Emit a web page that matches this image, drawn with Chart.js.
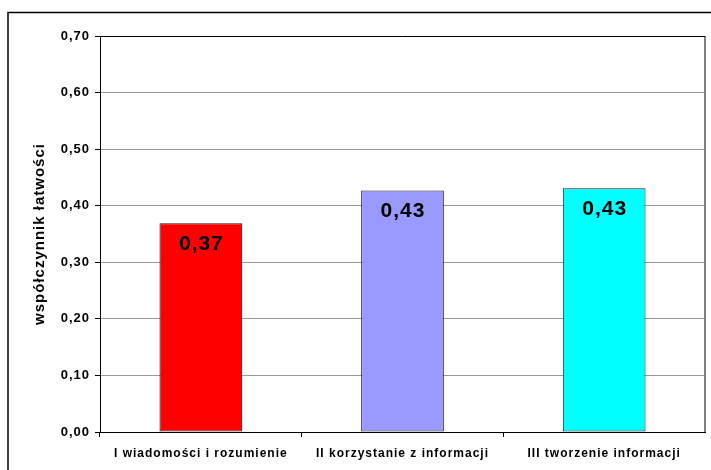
<!DOCTYPE html>
<html>
<head>
<meta charset="utf-8">
<script src="https://cdn.jsdelivr.net/npm/chart.js@4/dist/chart.umd.min.js"></script>
<style>
  html, body { margin: 0; padding: 0; background: #fff; }
  #wrap { width: 711px; height: 470px; position: relative; }
</style>
</head>
<body>
<div id="wrap"><canvas id="c" width="711" height="470"></canvas></div>
<script>
// Obszary umiejętności i ich współczynniki łatwości
const categories = ['I wiadomości i rozumienie', 'II korzystanie z informacji', 'III tworzenie informacji'];
const easiness = [0.369, 0.427, 0.431];
const barColors = ['#FF0000', '#9999FF', '#00FFFF'];
const yTicks = [0, 0.1, 0.2, 0.3, 0.4, 0.5, 0.6, 0.7];

const FONT = "'Liberation Sans', Arial, sans-serif";
const fmt = v => v.toFixed(2).replace('.', ',');

// Nieco szersze odstępy między literami dla wszystkich napisów
const spacing = {
  id: 'spacing',
  beforeUpdate(chart) { chart.ctx.letterSpacing = '1px'; },
  beforeLayout(chart) { chart.ctx.letterSpacing = '1px'; },
  beforeDraw(chart) { chart.ctx.letterSpacing = '1px'; }
};

// Ramka całego wykresu, prawa krawędź obszaru wykresu i etykiety wartości
const decor = {
  id: 'decor',
  beforeDraw(chart) {
    const ctx = chart.ctx;
    ctx.save();
    ctx.fillStyle = '#fff';
    ctx.fillRect(0, 0, chart.width, chart.height);
    ctx.strokeStyle = '#000';
    ctx.lineWidth = 1.5;
    ctx.strokeRect(8, 12.5, 1000, 1000);
    ctx.restore();
  },
  afterDatasetsDraw(chart) {
    const ctx = chart.ctx;
    const a = chart.chartArea;
    ctx.save();
    ctx.strokeStyle = '#808080';
    ctx.lineWidth = 2;
    ctx.beginPath();
    ctx.moveTo(a.right, a.top);
    ctx.lineTo(a.right, a.bottom);
    ctx.stroke();
    ctx.strokeStyle = '#000';
    ctx.lineWidth = 1;
    ctx.beginPath();
    ctx.moveTo(a.left, a.top + 0.5);
    ctx.lineTo(a.right, a.top + 0.5);
    ctx.stroke();

    const meta = chart.getDatasetMeta(0);
    ctx.fillStyle = '#000';
    ctx.font = 'bold 21px ' + FONT;
    ctx.textAlign = 'center';
    ctx.textBaseline = 'middle';
    meta.data.forEach((bar, i) => {
      ctx.fillText(fmt(easiness[i]), bar.x + 0.5, bar.y + 21);
    });
    ctx.restore();
  }
};

new Chart(document.getElementById('c'), {
  type: 'bar',
  data: {
    labels: categories,
    datasets: [{
      data: easiness,
      backgroundColor: barColors,
      borderColor: '#1a1a1a',
      borderWidth: 1,
      borderSkipped: false,
      categoryPercentage: 1,
      barPercentage: 0.41
    }]
  },
  options: {
    responsive: false,
    animation: false,
    devicePixelRatio: 1,
    layout: { padding: { top: 36, right: 6, left: 0, bottom: 0 } },
    plugins: { legend: { display: false }, tooltip: { enabled: false } },
    scales: {
      x: {
        grid: {
          offset: true,
          drawOnChartArea: false,
          // bez kreski podziałki na prawym końcu osi
          color: ctx => (ctx.tick === undefined ? 'rgba(0,0,0,0)' : '#000'),
          tickLength: 5
        },
        border: { color: '#000', width: 1 },
        ticks: { color: '#000', font: { family: FONT, size: 12, weight: 'bold' }, padding: 9, maxRotation: 0, autoSkip: false },
        afterFit(scale) { scale.height = 38; }
      },
      y: {
        min: 0,
        max: 0.7,
        afterBuildTicks(scale) { scale.ticks = yTicks.map(v => ({ value: v })); },
        grid: {
          color: '#999',
          tickColor: '#000',
          tickLength: 5
        },
        border: { color: '#000', width: 1 },
        ticks: {
          color: '#000',
          font: { family: FONT, size: 13, weight: 'bold' },
          padding: 5,
          callback: v => fmt(v)
        },
        title: {
          display: true,
          text: 'współczynnik łatwości',
          color: '#000',
          font: { family: FONT, size: 15, weight: 'bold' },
          padding: { top: 31, bottom: 0 }
        },
        afterFit(scale) { scale.width = 100; }
      }
    }
  },
  plugins: [spacing, decor]
});
</script>
</body>
</html>
